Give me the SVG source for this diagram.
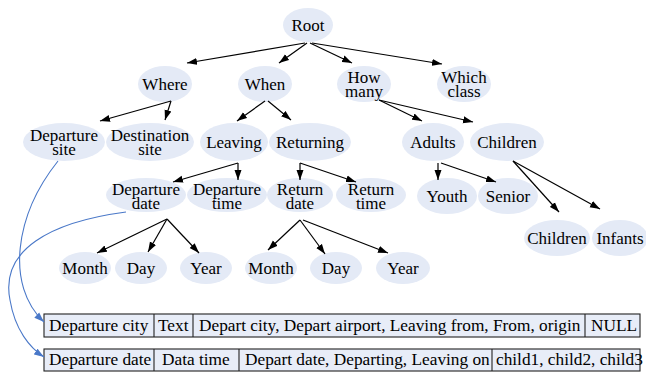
<svg xmlns="http://www.w3.org/2000/svg" width="646" height="372" viewBox="0 0 646 372">
<defs>
<marker id="ah" markerUnits="userSpaceOnUse" markerWidth="10" markerHeight="8" refX="10" refY="4" orient="auto">
<path d="M0,0.5 L10,4 L0,7.5 z" fill="#000"/>
</marker>
<marker id="bh" markerUnits="userSpaceOnUse" markerWidth="10" markerHeight="8" refX="10" refY="4" orient="auto">
<path d="M0,0.5 L10,4 L0,7.5 z" fill="#4a78c8"/>
</marker>
</defs>
<rect width="646" height="372" fill="#fff"/>
<g fill="#e4eaf6">
<g id="root"><ellipse cx="308" cy="25" rx="25" ry="17"/><text font-family="Liberation Serif" font-size="17" fill="#000" text-anchor="middle" x="308" y="31">Root</text></g>
<g id="where"><ellipse cx="165" cy="84" rx="27" ry="18"/><text font-family="Liberation Serif" font-size="17" fill="#000" text-anchor="middle" x="165" y="90">Where</text></g>
<g id="when"><ellipse cx="265" cy="84" rx="27" ry="18"/><text font-family="Liberation Serif" font-size="17" fill="#000" text-anchor="middle" x="265" y="90">When</text></g>
<g id="howmany"><ellipse cx="364" cy="84" rx="27" ry="18"/><text font-family="Liberation Serif" font-size="17" fill="#000" text-anchor="middle" x="364" y="83">How</text><text font-family="Liberation Serif" font-size="17" fill="#000" text-anchor="middle" x="364" y="97">many</text></g>
<g id="whichclass"><ellipse cx="464" cy="84" rx="27" ry="18"/><text font-family="Liberation Serif" font-size="17" fill="#000" text-anchor="middle" x="464" y="83">Which</text><text font-family="Liberation Serif" font-size="17" fill="#000" text-anchor="middle" x="464" y="97">class</text></g>

<g id="depsite"><ellipse cx="64" cy="142" rx="41" ry="19"/><text font-family="Liberation Serif" font-size="17" fill="#000" text-anchor="middle" x="64" y="141">Departure</text><text font-family="Liberation Serif" font-size="17" fill="#000" text-anchor="middle" x="64" y="155">site</text></g>
<g id="destsite"><ellipse cx="150" cy="142" rx="44" ry="19"/><text font-family="Liberation Serif" font-size="17" fill="#000" text-anchor="middle" x="150" y="141">Destination</text><text font-family="Liberation Serif" font-size="17" fill="#000" text-anchor="middle" x="150" y="155">site</text></g>
<g id="leaving"><ellipse cx="234" cy="142" rx="34" ry="19"/><text font-family="Liberation Serif" font-size="17" fill="#000" text-anchor="middle" x="234" y="148">Leaving</text></g>
<g id="returning"><ellipse cx="310" cy="142" rx="41" ry="19"/><text font-family="Liberation Serif" font-size="17" fill="#000" text-anchor="middle" x="310" y="148">Returning</text></g>
<g id="adults"><ellipse cx="433" cy="142" rx="31" ry="19"/><text font-family="Liberation Serif" font-size="17" fill="#000" text-anchor="middle" x="433" y="148">Adults</text></g>
<g id="children"><ellipse cx="507" cy="142" rx="37" ry="19"/><text font-family="Liberation Serif" font-size="17" fill="#000" text-anchor="middle" x="507" y="148">Children</text></g>

<g id="depdate"><ellipse cx="146" cy="195" rx="40" ry="17"/><text font-family="Liberation Serif" font-size="17" fill="#000" text-anchor="middle" x="146" y="195">Departure</text><text font-family="Liberation Serif" font-size="17" fill="#000" text-anchor="middle" x="146" y="209">date</text></g>
<g id="deptime"><ellipse cx="227" cy="195" rx="40" ry="17"/><text font-family="Liberation Serif" font-size="17" fill="#000" text-anchor="middle" x="227" y="195">Departure</text><text font-family="Liberation Serif" font-size="17" fill="#000" text-anchor="middle" x="227" y="209">time</text></g>
<g id="retdate"><ellipse cx="300" cy="195" rx="33" ry="17"/><text font-family="Liberation Serif" font-size="17" fill="#000" text-anchor="middle" x="300" y="195">Return</text><text font-family="Liberation Serif" font-size="17" fill="#000" text-anchor="middle" x="300" y="209">date</text></g>
<g id="rettime"><ellipse cx="371" cy="195" rx="35" ry="17"/><text font-family="Liberation Serif" font-size="17" fill="#000" text-anchor="middle" x="371" y="195">Return</text><text font-family="Liberation Serif" font-size="17" fill="#000" text-anchor="middle" x="371" y="209">time</text></g>
<g id="youth"><ellipse cx="447" cy="196" rx="30" ry="18"/><text font-family="Liberation Serif" font-size="17" fill="#000" text-anchor="middle" x="447" y="202">Youth</text></g>
<g id="senior"><ellipse cx="508" cy="196" rx="30" ry="18"/><text font-family="Liberation Serif" font-size="17" fill="#000" text-anchor="middle" x="508" y="202">Senior</text></g>

<g id="children2"><ellipse cx="557" cy="238" rx="33" ry="18"/><text font-family="Liberation Serif" font-size="17" fill="#000" text-anchor="middle" x="557" y="244">Children</text></g>
<g id="infants"><ellipse cx="620" cy="238" rx="28" ry="18"/><text font-family="Liberation Serif" font-size="17" fill="#000" text-anchor="middle" x="620" y="244">Infants</text></g>

<g id="month1"><ellipse cx="85" cy="268" rx="26" ry="16"/><text font-family="Liberation Serif" font-size="17" fill="#000" text-anchor="middle" x="85" y="274">Month</text></g>
<g id="day1"><ellipse cx="141" cy="268" rx="26" ry="16"/><text font-family="Liberation Serif" font-size="17" fill="#000" text-anchor="middle" x="141" y="274">Day</text></g>
<g id="year1"><ellipse cx="206" cy="268" rx="26" ry="16"/><text font-family="Liberation Serif" font-size="17" fill="#000" text-anchor="middle" x="206" y="274">Year</text></g>
<g id="month2"><ellipse cx="271" cy="268" rx="26" ry="16"/><text font-family="Liberation Serif" font-size="17" fill="#000" text-anchor="middle" x="271" y="274">Month</text></g>
<g id="day2"><ellipse cx="336" cy="268" rx="26" ry="16"/><text font-family="Liberation Serif" font-size="17" fill="#000" text-anchor="middle" x="336" y="274">Day</text></g>
<g id="year2"><ellipse cx="403" cy="268" rx="27" ry="16"/><text font-family="Liberation Serif" font-size="17" fill="#000" text-anchor="middle" x="403" y="274">Year</text></g>
</g>

<g id="table1" stroke="#222" stroke-width="1.1">
<rect fill="#e8edf8" x="44" y="314" width="596" height="23"/>
<line x1="154" y1="314" x2="154" y2="337"/>
<line x1="193" y1="314" x2="193" y2="337"/>
<line x1="585" y1="314" x2="585" y2="337"/>
<text stroke="none" font-family="Liberation Serif" font-size="17.3" fill="#000" x="49" y="331">Departure city</text>
<text stroke="none" font-family="Liberation Serif" font-size="17.3" fill="#000" x="158" y="331">Text</text>
<text stroke="none" font-family="Liberation Serif" font-size="17.3" fill="#000" x="199" y="331">Depart city, Depart airport, Leaving from, From, origin</text>
<text stroke="none" font-family="Liberation Serif" font-size="17.3" fill="#000" x="591" y="331">NULL</text>
</g>
<g id="table2" stroke="#222" stroke-width="1.1">
<rect fill="#e8edf8" x="44" y="349" width="596" height="22"/>
<line x1="154" y1="349" x2="154" y2="371"/>
<line x1="239" y1="349" x2="239" y2="371"/>
<line x1="492" y1="349" x2="492" y2="371"/>
<text stroke="none" font-family="Liberation Serif" font-size="17.3" fill="#000" x="49" y="365">Departure date</text>
<text stroke="none" font-family="Liberation Serif" font-size="17.3" fill="#000" x="162" y="365">Data time</text>
<text stroke="none" font-family="Liberation Serif" font-size="17.3" fill="#000" x="245" y="365">Depart date, Departing, Leaving on</text>
<text stroke="none" font-family="Liberation Serif" font-size="17.3" fill="#000" x="496" y="365">child1, child2, child3</text>
</g>

<g id="connectors" fill="none">
<g stroke="#000" stroke-width="1.2" marker-end="url(#ah)">
<path d="M305,43 L187,63"/>
<path d="M307,43 L279,63"/>
<path d="M310,43 L352,63"/>
<path d="M312,43 L442,64"/>
<path d="M171,101 L100,121"/>
<path d="M171,101 L165,120"/>
<path d="M265,101 L237,121"/>
<path d="M268,101 L291,120"/>
<path d="M379,100 L422,121"/>
<path d="M379,100 L473,122"/>
<path d="M238,163 L173,182"/>
<path d="M238,163 L238,180"/>
<path d="M300,163 L300,180"/>
<path d="M300,163 L356,182"/>
<path d="M438,163 L438,180"/>
<path d="M441,163 L496,182"/>
<path d="M513,161 L559,212"/>
<path d="M513,161 L600,209"/>
<path d="M167,219 L97,253"/>
<path d="M167,219 L148,252"/>
<path d="M167,219 L199,253"/>
<path d="M300,220 L268,250"/>
<path d="M300,220 L325,254"/>
<path d="M303,220 L388,253"/>
</g>
<g stroke="#4a78c8" stroke-width="1.1" marker-end="url(#bh)">
<path d="M58,161 C15,215 5,285 44,322"/>
<path d="M126,212 C50,222 0,250 10,300 C15,330 30,348 44,357"/>
</g>
</g>
</svg>
